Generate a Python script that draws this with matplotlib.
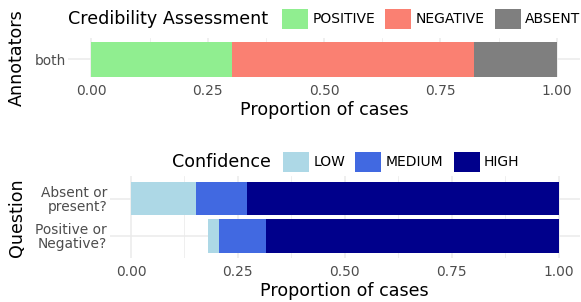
import numpy as np
import matplotlib.pyplot as plt
from matplotlib.patches import Patch
from matplotlib.ticker import MultipleLocator

# top panel: credibility assessment by annotators
annotators = ["both"]
cred_labels = ["POSITIVE", "NEGATIVE", "ABSENT"]
cred_values = [[0.301], [0.521], [0.178]]
cred_colors = ["#90EE90", "#FA8072", "#7F7F7F"]

# bottom panel: confidence per question (first entry is drawn at the bottom)
questions = ["Positive or\nNegative?", "Absent or\npresent?"]
conf_start = [0.18, 0.0]
conf_labels = ["LOW", "MEDIUM", "HIGH"]
conf_values = [[0.025, 0.151], [0.110, 0.121], [0.685, 0.728]]
conf_colors = ["#ADD8E6", "#4169E1", "#00008B"]

xticks = [0.0, 0.25, 0.5, 0.75, 1.0]
xticklabels = ["0.00", "0.25", "0.50", "0.75", "1.00"]

W, H = 581, 302
TITLE = 12.6
TICK = 9.9
GRID = "#EBEBEB"
TICKCOL = "#4D4D4D"

fig = plt.figure(figsize=(W / 100, H / 100), dpi=100)


def px_axes(x0, x1, y0, y1):
    return fig.add_axes([x0 / W, 1 - y1 / H, (x1 - x0) / W, (y1 - y0) / H])


def style(ax, ylabels, ylim):
    for s in ax.spines.values():
        s.set_visible(False)
    ax.set_xlim(-0.05, 1.05)
    ax.set_xticks(xticks)
    ax.set_xticklabels(xticklabels)
    ax.xaxis.set_minor_locator(MultipleLocator(0.125))
    ax.set_yticks(range(len(ylabels)))
    ax.set_yticklabels(ylabels, linespacing=0.95)
    ax.set_ylim(*ylim)
    ax.tick_params(length=0, labelsize=TICK, labelcolor=TICKCOL)
    ax.tick_params(axis="x", pad=4.5)
    ax.tick_params(axis="y", pad=1.8)
    ax.tick_params(which="minor", length=0)
    ax.grid(True, which="major", color=GRID, lw=1.1)
    ax.grid(True, which="minor", axis="x", color=GRID, lw=0.55)
    ax.set_axisbelow(True)
    ax.set_xlabel("Proportion of cases", fontsize=TITLE, labelpad=2.5)


def stacked(ax, start, values, colors):
    y = np.arange(len(start))
    left = np.array(start, dtype=float)
    for vals, c in zip(values, colors):
        ax.barh(y, vals, left=left, height=0.9, color=c, lw=0)
        left = left + np.array(vals)


# top panel
ax1 = px_axes(68.2, 580, 38.3, 77.3)
style(ax1, annotators, (-0.45, 0.535))
stacked(ax1, [0.0], cred_values, cred_colors)
fig.text(17 / W, 1 - 58 / H, "Annotators", rotation=90, fontsize=TITLE,
         ha="center", va="center")

# bottom panel
ax2 = px_axes(109.6, 580, 176.4, 258.3)
style(ax2, questions, (-0.6, 1.6))
stacked(ax2, conf_start, conf_values, conf_colors)
fig.text(17 / W, 1 - 217.4 / H, "Question", rotation=90, fontsize=TITLE,
         ha="center", va="center")


def legend(title, labels, colors, key_x, y, title_x):
    handles = [Patch(facecolor=c, lw=0) for c in colors]
    fig.legend(handles, labels, loc="center left",
               bbox_to_anchor=(key_x / W, 1 - y / H), ncol=len(labels),
               frameon=False, fontsize=10, handlelength=1.87,
               handleheight=1.85, handletextpad=0.3, columnspacing=0.75,
               borderpad=0, borderaxespad=0)
    fig.text(title_x / W, 1 - y / H, title, fontsize=TITLE,
             ha="left", va="center")


legend("Credibility Assessment", cred_labels, cred_colors, 282, 19, 68.3)
legend("Confidence", conf_labels, conf_colors, 283, 162, 172)

fig.savefig("out.png", dpi=100)
